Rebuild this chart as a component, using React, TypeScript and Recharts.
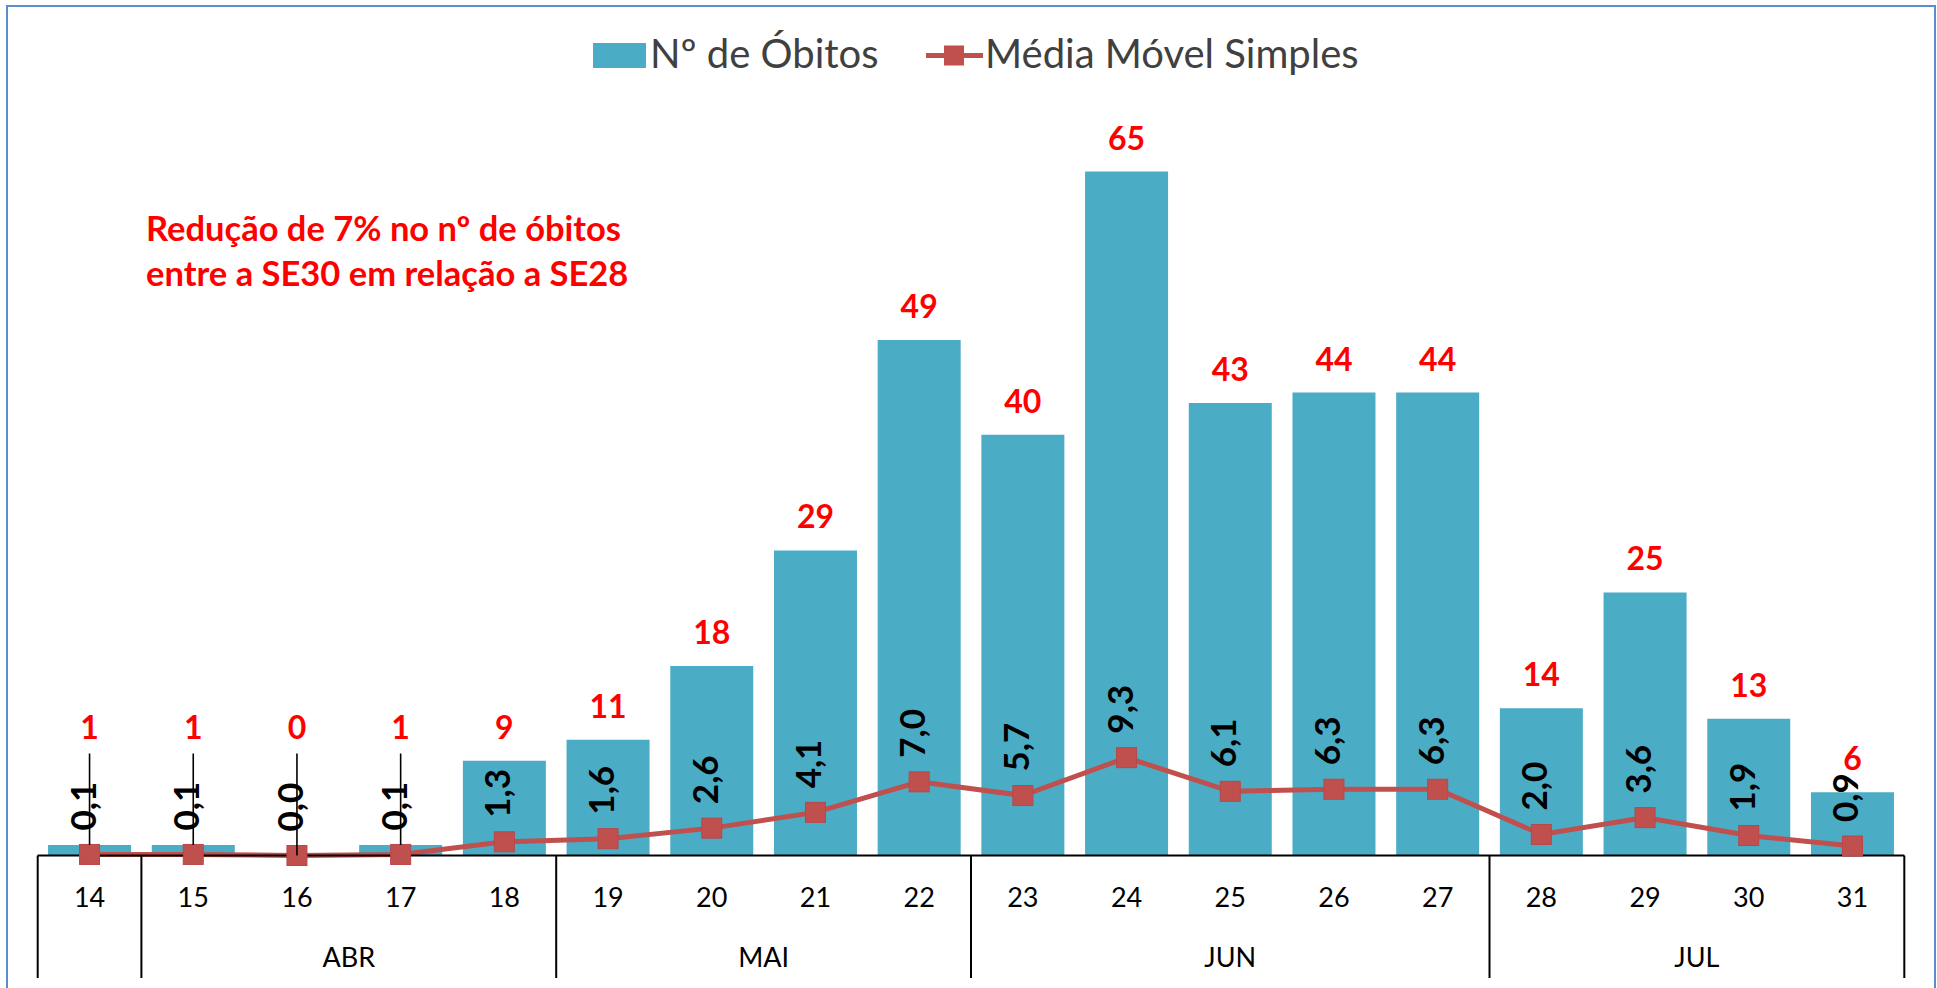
import React from 'react';
import { ComposedChart, Bar, Line, XAxis, YAxis, LabelList } from 'recharts';

// ---- data ----
const weeks = ['14', '15', '16', '17', '18', '19', '20', '21', '22', '23', '24', '25', '26', '27', '28', '29', '30', '31'];
const obitos = [1, 1, 0, 1, 9, 11, 18, 29, 49, 40, 65, 43, 44, 44, 14, 25, 13, 6];
const mediaMovel = [0.1, 0.1, 0.0, 0.1, 1.3, 1.6, 2.6, 4.1, 7.0, 5.7, 9.3, 6.1, 6.3, 6.3, 2.0, 3.6, 1.9, 0.9];
const months = ['', 'ABR', 'MAI', 'JUN', 'JUL'];
const monthSizes = [1, 4, 4, 5, 4];
const legendBar = 'Nº de Óbitos';
const legendLine = 'Média Móvel Simples';
const noteLines = ['Redução de 7% no nº de óbitos', 'entre a SE30 em relação a SE28'];

const data = weeks.map((w, i) => ({ week: w, obitos: obitos[i], mms: mediaMovel[i] }));

// ---- layout ----
const W = 1937;
const H = 988;
const ML = 37.7;
const MR = 32.7;
const MT = 119;
const XAXIS_H = 132.5;
const PLOT_BOTTOM = H - XAXIS_H;
const BAND = (W - ML - MR) / weeks.length;
const FONT = 'Lato, "Open Sans", sans-serif';
const BAR_COLOR = '#4bacc6';
const LINE_COLOR = '#c0504d';

const groupStartIndex: Record<number, number> = {};
{
  let s = 0;
  monthSizes.forEach((n, g) => {
    groupStartIndex[s] = g;
    s += n;
  });
}

const fmt = (v: number) => v.toFixed(1).replace('.', ',');

function WeekTick(props: any) {
  const { x, y, payload } = props;
  const i = props.index != null ? props.index : weeks.indexOf(String(payload.value));
  const g = groupStartIndex[i];
  return (
    <g>
      <text x={x} y={y + 51} textAnchor="middle" fontSize={27} fill="#000" fontFamily={FONT}>
        {payload.value}
      </text>
      {g !== undefined && (
        <line x1={x - BAND / 2} x2={x - BAND / 2} y1={y} y2={y + 122.5} stroke="#000" strokeWidth={2} />
      )}
      {g !== undefined && months[g] !== '' && (
        <text
          x={x + ((monthSizes[g] - 1) / 2) * BAND}
          y={y + 111.5}
          textAnchor="middle"
          fontSize={27}
          fill="#000"
          fontFamily={FONT}
        >
          {months[g]}
        </text>
      )}
      {i === weeks.length - 1 && (
        <line x1={x + BAND / 2} x2={x + BAND / 2} y1={y} y2={y + 122.5} stroke="#000" strokeWidth={2} />
      )}
    </g>
  );
}

// red value labels above the bars (drawn from an invisible line on the same scale,
// so that zero-height bars also get a label)
function BarValueLabel(props: any) {
  const { x, y, value } = props;
  if (x == null || y == null) return null;
  const natural = y - 22;
  const moved = natural > PLOT_BOTTOM - 60;
  const by = moved ? PLOT_BOTTOM - 117 : natural;
  return (
    <g>
      {moved && <line x1={x} x2={x} y1={by + 15} y2={y} stroke="#000" strokeWidth={1.6} />}
      <text x={x} y={by} textAnchor="middle" fill="#ff0000" fontSize={32} fontWeight="bold" fontFamily={FONT}>
        {value}
      </text>
    </g>
  );
}

function LineValueLabel(props: any) {
  const { x, y, value } = props;
  if (x == null || y == null) return null;
  const ax = x + 6;
  const ay = y - 24;
  return (
    <text
      x={ax}
      y={ay}
      transform={`rotate(-90 ${ax} ${ay})`}
      fill="#000"
      fontSize={35}
      fontWeight="bold"
      fontFamily={FONT}
    >
      {fmt(Number(value))}
    </text>
  );
}

function SquareDot(props: any) {
  const { cx, cy } = props;
  if (cx == null || cy == null) return null;
  return <rect x={cx - 10} y={cy - 10} width={20} height={20} fill={LINE_COLOR} stroke="#b8474a" strokeWidth={1} />;
}

export default function App() {
  return (
    <div
      style={{
        position: 'absolute',
        left: 0,
        top: 0,
        width: W,
        height: H,
        overflow: 'hidden',
        background: '#fff',
        fontFamily: FONT,
      }}
    >
      <div
        style={{
          position: 'absolute',
          left: 6,
          top: 5,
          width: 1930,
          height: 1100,
          boxSizing: 'border-box',
          border: '2px solid #5b8ccf',
        }}
      />
      <div style={{ position: 'absolute', left: 0, top: 0 }}>
        <ComposedChart
          width={W}
          height={H}
          data={data}
          margin={{ top: MT, right: MR, left: ML, bottom: 0 }}
          barCategoryGap="10%"
        >
          <XAxis
            dataKey="week"
            type="category"
            interval={0}
            height={XAXIS_H}
            tickLine={false}
            tickSize={0}
            tickMargin={0}
            axisLine={{ stroke: '#000', strokeWidth: 2 }}
            tick={<WeekTick />}
          />
          <YAxis hide domain={[0, 70]} />
          <Bar dataKey="obitos" fill={BAR_COLOR} isAnimationActive={false} />
          <Line
            type="linear"
            dataKey="obitos"
            stroke="none"
            strokeWidth={0}
            dot={false}
            activeDot={false}
            legendType="none"
            isAnimationActive={false}
          >
            <LabelList dataKey="obitos" content={<BarValueLabel />} />
          </Line>
          <Line
            type="linear"
            dataKey="mms"
            stroke={LINE_COLOR}
            strokeWidth={5}
            dot={<SquareDot />}
            activeDot={false}
            isAnimationActive={false}
          >
            <LabelList dataKey="mms" content={<LineValueLabel />} />
          </Line>
        </ComposedChart>
      </div>
      <svg
        width={W}
        height={H}
        style={{ position: 'absolute', left: 0, top: 0, pointerEvents: 'none' }}
      >
        <rect x={593} y={43} width={53} height={25} fill={BAR_COLOR} />
        <text x={650} y={68} fontSize={40} fill="#404040" fontFamily={FONT}>
          {legendBar}
        </text>
        <line x1={926} x2={983} y1={55.5} y2={55.5} stroke={LINE_COLOR} strokeWidth={5} />
        <rect x={944} y={45.5} width={20} height={20} fill={LINE_COLOR} />
        <text x={985} y={68} fontSize={40} fill="#404040" fontFamily={FONT}>
          {legendLine}
        </text>
        <text x={146} y={241} fontSize={34.5} fontWeight="bold" fill="#ff0000" fontFamily={FONT}>
          {noteLines[0]}
        </text>
        <text x={146} y={286} fontSize={34.5} fontWeight="bold" fill="#ff0000" fontFamily={FONT}>
          {noteLines[1]}
        </text>
      </svg>
    </div>
  );
}
